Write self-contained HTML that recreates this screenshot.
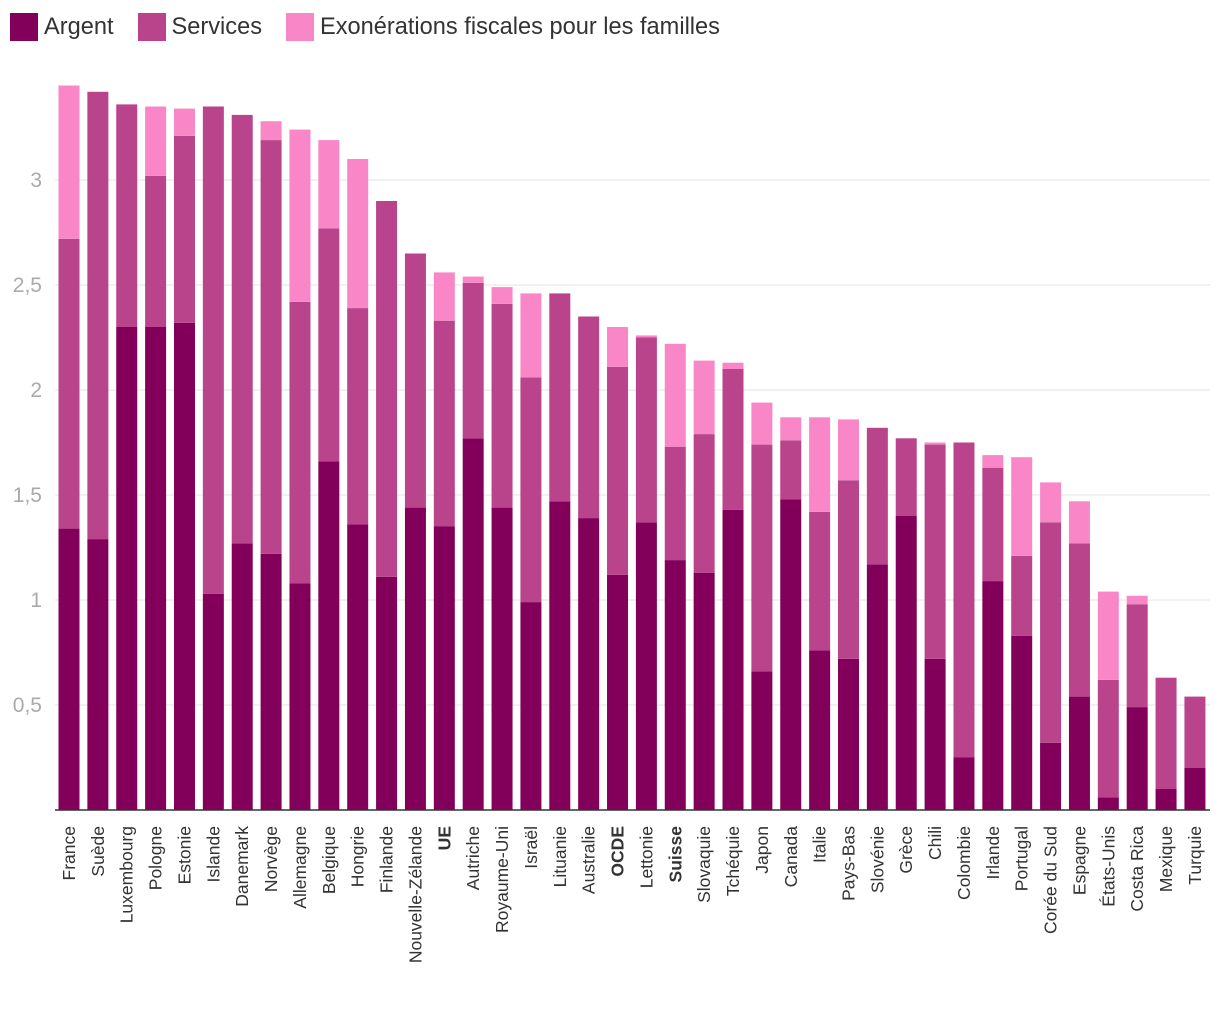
<!DOCTYPE html>
<html><head><meta charset="utf-8">
<style>
body{margin:0;background:#fff;font-family:"Liberation Sans",sans-serif;}
#legend{position:absolute;left:10px;top:13px;display:flex;align-items:center;font-size:23.6px;color:#333;}
.sw{width:28px;height:28px;display:inline-block;margin-right:6px;}
.li{display:flex;align-items:center;margin-right:24px;}
</style></head><body>
<div id="legend">
<div class="li"><span class="sw" style="background:#83005a"></span>Argent</div>
<div class="li"><span class="sw" style="background:#b9448c"></span>Services</div>
<div class="li"><span class="sw" style="background:#f987c8"></span>Exonérations fiscales pour les familles</div>
</div>
<svg id="chart" width="1220" height="1020" style="position:absolute;left:0;top:0"></svg>
<script>
const countries=["France","Suède","Luxembourg","Pologne","Estonie","Islande","Danemark","Norvège","Allemagne","Belgique","Hongrie","Finlande","Nouvelle-Zélande","UE","Autriche","Royaume-Uni","Israël","Lituanie","Australie","OCDE","Lettonie","Suisse","Slovaquie","Tchéquie","Japon","Canada","Italie","Pays-Bas","Slovénie","Grèce","Chili","Colombie","Irlande","Portugal","Corée du Sud","Espagne","États-Unis","Costa Rica","Mexique","Turquie"];
const argent=[1.34,1.29,2.30,2.30,2.32,1.03,1.27,1.22,1.08,1.66,1.36,1.11,1.44,1.35,1.77,1.44,0.99,1.47,1.39,1.12,1.37,1.19,1.13,1.43,0.66,1.48,0.76,0.72,1.17,1.40,0.72,0.25,1.09,0.83,0.32,0.54,0.06,0.49,0.10,0.20];
const services=[1.38,2.13,1.06,0.72,0.89,2.32,2.04,1.97,1.34,1.11,1.03,1.79,1.21,0.98,0.74,0.97,1.07,0.99,0.96,0.99,0.88,0.54,0.66,0.67,1.08,0.28,0.66,0.85,0.65,0.37,1.02,1.50,0.54,0.38,1.05,0.73,0.56,0.49,0.53,0.34];
const fiscal=[0.73,0,0,0.33,0.13,0,0,0.09,0.82,0.42,0.71,0,0,0.23,0.03,0.08,0.40,0,0,0.19,0.01,0.49,0.35,0.03,0.20,0.11,0.45,0.29,0,0,0.01,0,0.06,0.47,0.19,0.20,0.42,0.04,0,0];
const yTicks=[0.5,1,1.5,2,2.5,3];
const yLabels=["0,5","1","1,5","2","2,5","3"];
const bold=["UE","OCDE","Suisse"];
const NS="http://www.w3.org/2000/svg";
const svg=document.getElementById('chart');
const y=v=>810-v*210;
const x=i=>69+i*28.87;
const bw=21;
function mk(t,a){const e=document.createElementNS(NS,t);for(const k in a)e.setAttribute(k,a[k]);svg.appendChild(e);return e;}
yTicks.forEach((t,i)=>{
 const g=mk('line',{x1:55,x2:1210,y1:y(t),y2:y(t),stroke:'#e3e3e3','stroke-width':1});
 
 
 const l=mk('text',{x:42,y:y(t)+7,'text-anchor':'end','font-size':21,fill:'#aaa','font-family':'Liberation Sans, sans-serif'});
 l.textContent=yLabels[i];
 
 
});
countries.forEach((c,i)=>{
 const cx=x(i);
 let base=0;
 [[argent[i],'#83005a','bar-argent'],[services[i],'#b9448c','bar-services'],[fiscal[i],'#f987c8','bar-exonerations']].forEach(s=>{
  if(s[0]>0){
   const r=mk('rect',{x:cx-bw/2,y:y(base+s[0]),width:bw,height:s[0]*210,fill:s[1]});
   
   
  }
  base+=s[0];
 });
 const t=mk('text',{transform:`translate(${cx+6},826) rotate(-90)`,'text-anchor':'end','font-size':17.5,fill:'#333','font-family':'Liberation Sans, sans-serif','font-weight':bold.includes(c)?'bold':'normal'});
 t.textContent=c;
 
 
});
const ax=mk('line',{x1:55,x2:1210,y1:810,y2:810,stroke:'#333','stroke-width':1.5});


</script>
</body></html>
